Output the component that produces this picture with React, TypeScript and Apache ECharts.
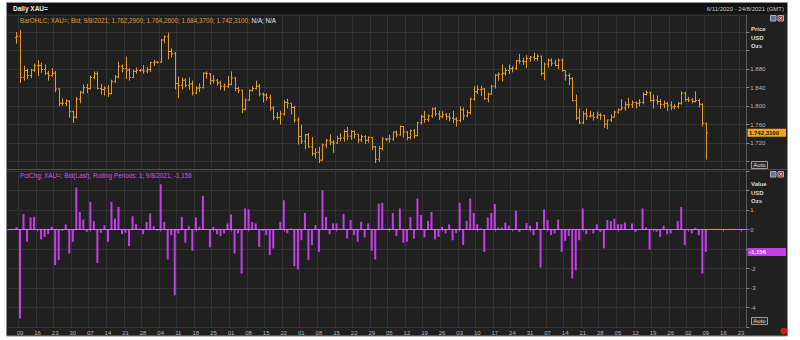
import React, { useEffect, useRef } from 'react';
import * as echarts from 'echarts';

// ---- Data (trading days from 2020-11-06 to 2021-08-09) ----
const opens = [
  1948,1951,1862,1877,1866,1878,1887,1888,1879,1871,
  1866,1871,1837,1806,1806,1811,1788,1776,1815,1830,
  1840,1838,1862,1870,1838,1836,1839,1827,1853,1863,
  1886,1881,1878,1862,1875,1877,1878,1876,1879,1894,
  1895,1895,1943,1950,1918,1913,1849,1845,1856,1845,
  1848,1828,1839,1840,1871,1870,1855,1856,1850,1843,
  1843,1847,1861,1838,1834,1793,1813,1834,1838,1843,
  1826,1824,1818,1796,1776,1775,1783,1808,1806,1797,
  1770,1734,1724,1738,1712,1697,1700,1683,1716,1726,
  1722,1720,1730,1731,1745,1735,1745,1739,1727,1734,
  1726,1732,1712,1685,1708,1729,1729,1729,1744,1738,
  1756,1744,1732,1747,1736,1764,1777,1771,1779,1794,
  1783,1777,1781,1777,1774,1772,1769,1792,1779,1786,
  1815,1831,1836,1837,1816,1826,1843,1867,1869,1871,
  1877,1881,1882,1898,1897,1896,1903,1906,1903,1908,
  1871,1891,1899,1893,1888,1899,1877,1866,1859,1812,
  1774,1764,1783,1778,1779,1776,1781,1780,1761,1770,
  1776,1787,1792,1796,1803,1803,1808,1806,1808,1825,
  1829,1812,1813,1810,1803,1806,1802,1798,1799,1806,
  1828,1814,1813,1810,1812,1804,1762.29,
];
const highs = [
  1960,1965,1887,1881,1881,1892,1899,1894,1890,1876,
  1882,1876,1839,1817,1815,1813,1790,1820,1833,1847,
  1848,1866,1875,1875,1848,1843,1846,1857,1867,1896,
  1890,1907,1882,1879,1884,1880,1889,1884,1896,1900,
  1897,1945,1953,1959,1925,1917,1864,1862,1860,1862,
  1855,1843,1849,1873,1875,1871,1867,1859,1855,1849,
  1865,1875,1863,1842,1836,1816,1836,1843,1855,1848,
  1829,1828,1825,1800,1787,1790,1813,1816,1806,1801,
  1776,1760,1740,1742,1733,1709,1712,1719,1729,1739,
  1726,1736,1741,1749,1755,1748,1747,1740,1738,1737,
  1735,1733,1714,1714,1733,1731,1738,1745,1747,1758,
  1757,1746,1749,1750,1766,1781,1790,1782,1797,1798,
  1790,1789,1785,1785,1790,1776,1799,1797,1792,1818,
  1844,1845,1844,1839,1829,1846,1869,1873,1890,1883,
  1890,1886,1900,1913,1905,1910,1908,1916,1912,1909,
  1894,1903,1903,1900,1903,1903,1877,1871,1863,1825,
  1795,1789,1795,1790,1787,1788,1785,1781,1771,1782,
  1790,1795,1815,1810,1818,1812,1810,1815,1830,1834,
  1831,1825,1823,1815,1812,1809,1810,1804,1809,1832,
  1831,1820,1817,1832,1816,1806,1764.26,
];
const lows = [
  1935,1850,1855,1858,1861,1874,1865,1872,1867,1855,
  1864,1830,1800,1801,1800,1775,1764,1773,1806,1826,
  1828,1836,1858,1836,1825,1823,1820,1825,1850,1860,
  1873,1859,1855,1860,1870,1874,1870,1871,1874,1887,
  1892,1893,1936,1901,1905,1836,1817,1836,1841,1835,
  1823,1826,1831,1838,1859,1846,1849,1844,1835,1833,
  1839,1845,1832,1828,1785,1791,1811,1831,1836,1821,
  1808,1812,1790,1770,1771,1760,1779,1795,1782,1764,
  1717,1718,1707,1710,1692,1687,1677,1682,1709,1716,
  1699,1718,1724,1723,1726,1727,1730,1720,1722,1718,
  1721,1705,1677,1680,1704,1724,1721,1725,1732,1736,
  1732,1726,1728,1730,1735,1760,1764,1766,1775,1778,
  1770,1774,1770,1767,1763,1756,1765,1770,1776,1782,
  1812,1826,1822,1813,1808,1824,1838,1855,1853,1866,
  1869,1873,1878,1892,1889,1882,1896,1898,1897,1866,
  1856,1883,1886,1886,1880,1874,1855,1845,1810,1770,
  1761,1761,1770,1775,1769,1772,1770,1753,1750,1766,
  1775,1784,1791,1790,1795,1796,1795,1799,1804,1823,
  1810,1795,1803,1794,1796,1789,1791,1793,1795,1803,
  1810,1809,1806,1808,1797,1756,1684.37,
];
const closes = [
  1951,1862,1877,1866,1878,1887,1888,1879,1871,1866,
  1871,1837,1806,1806,1811,1788,1776,1815,1830,1840,
  1838,1862,1870,1838,1836,1839,1827,1853,1863,1886,
  1881,1878,1862,1875,1877,1878,1876,1879,1894,1895,
  1895,1943,1950,1918,1913,1849,1845,1856,1845,1848,
  1828,1839,1840,1871,1870,1855,1856,1850,1843,1843,
  1847,1861,1838,1834,1793,1813,1834,1838,1843,1826,
  1824,1818,1796,1776,1775,1783,1808,1806,1797,1770,
  1734,1724,1738,1712,1697,1700,1683,1716,1726,1722,
  1720,1730,1731,1745,1735,1745,1739,1727,1734,1726,
  1732,1712,1685,1708,1729,1729,1729,1744,1738,1756,
  1744,1732,1747,1736,1764,1777,1771,1779,1794,1783,
  1777,1781,1777,1774,1772,1769,1792,1779,1786,1815,
  1831,1836,1837,1816,1826,1843,1867,1869,1871,1877,
  1881,1882,1898,1897,1896,1903,1906,1903,1908,1871,
  1891,1899,1893,1888,1899,1877,1866,1859,1812,1774,
  1764,1783,1778,1779,1776,1781,1780,1761,1770,1776,
  1787,1792,1796,1803,1803,1808,1806,1808,1825,1829,
  1812,1813,1810,1803,1806,1802,1798,1799,1806,1828,
  1814,1813,1810,1812,1804,1763,1742.31,
];
const pctChg = [
  0.13,-4.56,0.79,-0.63,0.62,0.65,0.02,-0.51,-0.38,-0.24,
  0.14,-1.83,-1.57,-0.07,0.26,-1.23,-0.63,2.15,0.9,0.51,
  -0.12,1.42,0.43,-1.71,-0.17,0.22,-0.63,1.42,0.56,1.16,
  -0.24,-0.17,-0.85,0.68,0.27,0.05,-0.24,0.39,0.82,0.17,
  -0.05,2.32,0.39,-1.54,-0.29,-3.37,-0.2,0.65,-0.68,0.17,
  -1.09,0.62,0.14,1.73,0.02,-0.92,0.14,-0.24,-0.34,-0.2,
  0.31,0.77,-1.23,-0.2,-2.26,1.08,1.03,0.39,0.31,-0.89,
  -0.07,-0.29,-1.32,-0.97,0.01,0.39,1.5,-0.2,0.05,-1.88,
  -2.05,-0.55,0.85,-1.57,-0.8,0.22,-1.15,2.02,0.65,-0.24,
  0.31,0.31,0.05,0.79,-0.46,0.48,-0.29,-0.63,0.39,-0.41,
  0.31,-1.09,-1.54,1.33,1.37,0.03,0.05,0.85,-0.34,1.08,
  -0.68,-0.63,0.65,-0.46,1.59,0.74,-0.41,0.44,0.9,-0.51,
  -0.38,0.14,-0.2,0.26,-0.55,-0.17,1.37,-0.8,0.44,1.59,
  0.85,0.27,0.05,-1.15,0.62,0.85,1.3,0.09,0.09,0.36,
  0.19,0.01,0.96,-0.12,0.01,0.34,0.19,-0.29,0.39,-1.95,
  1.03,0.48,-0.29,-0.2,0.51,-1.15,-0.58,-0.34,-2.51,-2.09,
  -0.55,1.08,-0.24,0.01,-0.2,0.27,-0.12,-0.97,0.48,0.43,
  0.56,0.27,0.27,0.36,0.02,0.31,-0.12,0.03,1.08,0.1,
  -1.03,0.03,-0.12,-0.38,0.19,-0.24,-0.2,0.02,0.44,1.16,
  -0.8,0.01,-0.2,0.09,-0.29,-2.26,-1.156,
];
const firstTradingDay = '2020-11-06';
const axisStart = [2020, 10, 4];
const axisEnd = [2021, 7, 24];
const priceTicks = [1720, 1760, 1800, 1840, 1880];
const pctTicks = [-4, -3, -2, 0, 1];

const FONT = "'Liberation Sans', Arial, sans-serif";
const ORANGE = '#e39a2d';
const MAGENTA = '#c43ee8';

function buildCategories(): string[] {
  const out: string[] = [];
  const d = new Date(Date.UTC(axisStart[0], axisStart[1], axisStart[2]));
  const end = Date.UTC(axisEnd[0], axisEnd[1], axisEnd[2]);
  while (d.getTime() <= end) {
    const wd = d.getUTCDay();
    if (wd !== 0 && wd !== 6) out.push(d.toISOString().slice(0, 10));
    d.setUTCDate(d.getUTCDate() + 1);
  }
  return out;
}

const fmtThousands = (v: number) => {
  const s = String(Math.round(v));
  return s.length > 3 ? s.slice(0, s.length - 3) + '.' + s.slice(-3) : s;
};

export default function App() {
  const ref = useRef<HTMLDivElement>(null);
  useEffect(() => {
    if (!ref.current) return;
    const chart = echarts.init(ref.current, null, { renderer: 'svg', width: 800, height: 340 });
    const cats = buildCategories();
    const offset = cats.indexOf(firstTradingDay);
    const isMonday = (_i: number, v: string) => new Date(v + 'T00:00:00Z').getUTCDay() === 1;

    const ohlcData = closes.map((c, i) => [offset + i, opens[i], highs[i], lows[i], c]);
    const pctData = cats.map((_, i) => {
      const k = i - offset;
      return k >= 0 && k < pctChg.length ? pctChg[k] : '-';
    });

    const gridLeft = 7.7;
    const gridRight = 53.7;

    const xBase = {
      type: 'category' as const,
      data: cats,
      boundaryGap: true,
      axisLine: { show: false },
      axisTick: { show: false },
      axisLabel: { show: false },
      splitLine: { show: true, interval: isMonday, lineStyle: { color: '#323232', width: 1 } },
    };

    chart.setOption({
      animation: false,
      backgroundColor: '#ffffff',
      grid: [
        { left: gridLeft, right: gridRight, top: 15, height: 154 },
        { left: gridLeft, right: gridRight, top: 171, height: 156 },
      ],
      xAxis: [
        { ...xBase, gridIndex: 0 },
        {
          ...xBase,
          gridIndex: 1,
          axisLine: { show: true, lineStyle: { color: '#4a4a4a' } },
          axisTick: { show: true, alignWithLabel: true, interval: isMonday, length: 2, lineStyle: { color: '#777' } },
          axisLabel: {
            show: true,
            interval: isMonday,
            formatter: (v: string) => v.slice(8, 10),
            color: '#b4b4b4',
            fontSize: 6,
            fontFamily: FONT,
            margin: 3,
          },
        },
      ],
      yAxis: [
        {
          type: 'value',
          gridIndex: 0,
          position: 'right',
          min: 1664,
          max: 1997,
          minInterval: 40,
          maxInterval: 40,
          splitNumber: 8,
          axisLine: { show: true, lineStyle: { color: '#5a5a5a' } },
          axisTick: { show: true, length: 3, lineStyle: { color: '#8a8a8a' } },
          axisLabel: {
            color: '#b8b8b8',
            fontSize: 6,
            fontFamily: FONT,
            margin: 4,
            showMinLabel: false,
            showMaxLabel: false,
            formatter: (v: number) => (priceTicks.includes(v) ? fmtThousands(v) : ''),
          },
          splitLine: { show: true, lineStyle: { color: '#323232' } },
        },
        {
          type: 'value',
          gridIndex: 1,
          position: 'right',
          min: -5,
          max: 3,
          interval: 1,
          axisLine: { show: true, lineStyle: { color: '#5a5a5a' } },
          axisTick: { show: true, length: 3, lineStyle: { color: '#8a8a8a' } },
          axisLabel: {
            color: '#b8b8b8',
            fontSize: 6,
            fontFamily: FONT,
            margin: 4,
            formatter: (v: number) => (pctTicks.includes(v) ? String(v) : ''),
          },
          splitLine: { show: true, lineStyle: { color: '#323232' } },
        },
      ],
      series: [
        {
          type: 'custom',
          xAxisIndex: 0,
          yAxisIndex: 0,
          clip: true,
          data: ohlcData,
          encode: { x: 0, y: [1, 2, 3, 4] },
          renderItem: (_params: any, api: any) => {
            const xi = api.value(0);
            const o = api.coord([xi, api.value(1)]);
            const h = api.coord([xi, api.value(2)]);
            const l = api.coord([xi, api.value(3)]);
            const c = api.coord([xi, api.value(4)]);
            const cx = Math.round(o[0]) + 0.5;
            const style = { stroke: ORANGE, lineWidth: 1 };
            return {
              type: 'group',
              children: [
                { type: 'line', shape: { x1: cx, y1: h[1], x2: cx, y2: l[1] }, style },
                { type: 'line', shape: { x1: cx - 1.5, y1: o[1], x2: cx, y2: o[1] }, style },
                { type: 'line', shape: { x1: cx, y1: c[1], x2: cx + 1.5, y2: c[1] }, style },
              ],
            };
          },
        },
        {
          type: 'bar',
          xAxisIndex: 1,
          yAxisIndex: 1,
          data: pctData,
          barWidth: 2,
          itemStyle: { color: MAGENTA },
          markLine: {
            silent: true,
            symbol: 'none',
            label: { show: false },
            lineStyle: { color: '#c77ae6', width: 1, type: 'solid' },
            data: [{ yAxis: 0 }],
          },
        },
      ],
    });

    const lastClose = closes[closes.length - 1];
    const lastPct = pctChg[pctChg.length - 1];
    const py = chart.convertToPixel({ yAxisIndex: 0 }, lastClose) as number;
    const vy = chart.convertToPixel({ yAxisIndex: 1 }, lastPct) as number;
    const fmtDec = (v: number, d: number) => {
      const neg = v < 0;
      const [ip, dp] = Math.abs(v).toFixed(d).split('.');
      return (neg ? '-' : '') + fmtThousands(Number(ip)) + ',' + dp;
    };

    const txt = (x: number, y: number, text: string, fill: string, extra: any = {}) => ({
      type: 'text',
      x,
      y,
      z: extra.z || 50,
      style: {
        text,
        fill,
        font: `${extra.bold ? 'bold ' : ''}${extra.size || 6}px ${FONT}`,
        textAlign: extra.align || 'left',
        textVerticalAlign: 'middle',
        verticalAlign: 'middle',
      },
    });

    const autoBox = (y: number) => [
      { type: 'rect', z: 50, shape: { x: 751.5, y, width: 16, height: 7 }, style: { fill: '#2b2b2b', stroke: '#9a9a9a', lineWidth: 1 } },
      txt(759.5, y + 3.7, 'Auto', '#dcdcdc', { align: 'center', size: 6, z: 51 }),
    ];
    const icons = (y: number) => [
      { type: 'rect', z: 50, shape: { x: 770.5, y, width: 5.5, height: 5.5 }, style: { fill: '#5d7596', stroke: '#9fb3cc', lineWidth: 1 } },
      { type: 'rect', z: 50, shape: { x: 778, y, width: 5.5, height: 5.5 }, style: { fill: '#8c3b3b', stroke: '#c9a0a0', lineWidth: 1 } },
      { type: 'line', z: 51, shape: { x1: 779.2, y1: y + 1.2, x2: 782.3, y2: y + 4.3 }, style: { stroke: '#f0e0e0', lineWidth: 0.8 } },
      { type: 'line', z: 51, shape: { x1: 782.3, y1: y + 1.2, x2: 779.2, y2: y + 4.3 }, style: { stroke: '#f0e0e0', lineWidth: 0.8 } },
    ];

    chart.setOption({
      graphic: [
        { type: 'rect', z: -100, shape: { x: 6.5, y: 2.5, width: 781, height: 333.5 }, style: { fill: '#202020', stroke: '#8f8f8f', lineWidth: 1 } },
        { type: 'rect', z: -99, shape: { x: 7, y: 3, width: 780, height: 10.5 }, style: { fill: '#111111' } },
        txt(13, 8.5, 'Daily XAU=', '#ececec', { bold: true, size: 6.5 }),
        txt(784, 8.5, '6/11/2020 - 24/8/2021 (GMT)', '#c8c8c8', { align: 'right' }),
        { type: 'line', z: 40, shape: { x1: 7, y1: 169.5, x2: 787, y2: 169.5 }, style: { stroke: '#4c4c4c', lineWidth: 1 } },
        {
          type: 'text',
          x: 20,
          y: 20.5,
          z: 50,
          style: {
            text: '{a|BarOHLC; XAU=; Bid; 9/8/2021; 1.762,2900; 1.764,2600; 1.684,3700; 1.742,3100;} {b|N/A; N/A}',
            rich: {
              a: { fill: ORANGE, color: ORANGE, font: `6.3px ${FONT}` },
              b: { fill: '#e6e6e6', color: '#e6e6e6', font: `6.3px ${FONT}` },
            },
            font: `6.3px ${FONT}`,
            verticalAlign: 'middle',
            textVerticalAlign: 'middle',
          },
        },
        txt(20, 175.5, 'PctChg; XAU=; Bid(Last); Rolling Periods: 1; 9/8/2021; -1,156', '#c85ee8', { size: 6.3 }),
        txt(751, 29, 'Price', '#dedede', { bold: true }),
        txt(751, 37.5, 'USD', '#dedede', { bold: true }),
        txt(751, 46, 'Ozs', '#dedede', { bold: true }),
        txt(751, 184, 'Value', '#dedede', { bold: true }),
        txt(751, 192.5, 'USD', '#dedede', { bold: true }),
        txt(751, 201, 'Ozs', '#dedede', { bold: true }),
        ...autoBox(161.5),
        ...autoBox(317.5),
        ...icons(15.5),
        ...icons(171.5),
        { type: 'rect', z: 60, shape: { x: 747.5, y: py - 4, width: 38.5, height: 8 }, style: { fill: '#f2a51c' } },
        txt(749, py, fmtDec(lastClose, 4), '#1a1a1a', { bold: true, z: 61 }),
        { type: 'rect', z: 60, shape: { x: 747.5, y: vy - 4, width: 38.5, height: 8 }, style: { fill: '#c23ee6' } },
        txt(749, vy, fmtDec(lastPct, 3), '#f6e6ff', { bold: true, z: 61 }),
        { type: 'circle', z: 60, shape: { cx: 784, cy: 331, r: 3.5 }, style: { fill: '#e01414' } },
      ],
    });

    return () => chart.dispose();
  }, []);

  return (
    <div
      ref={ref}
      style={{ position: 'fixed', left: 0, top: 0, width: 800, height: 340, background: '#ffffff' }}
    />
  );
}
